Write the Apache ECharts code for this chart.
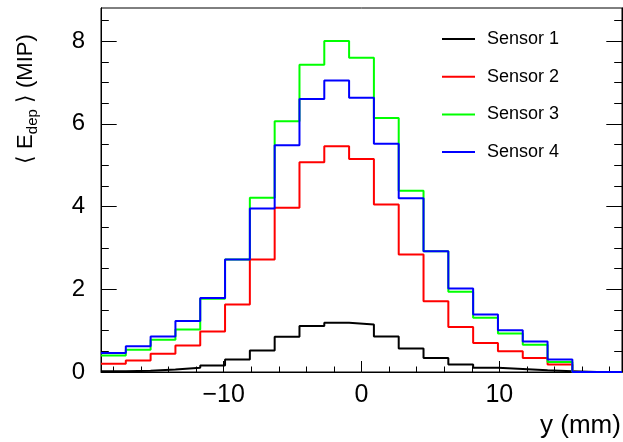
<!DOCTYPE html>
<html>
<head>
<meta charset="utf-8">
<script src="https://cdn.jsdelivr.net/npm/echarts@6/dist/echarts.min.js"></script>
<style>
html,body{margin:0;padding:0;background:#fff;}
#c{width:623px;height:442px;}
</style>
</head>
<body>
<div id="c"></div>
<script>
// Bin edges of the histograms (y in mm)
var binEdges = [-18.9, -17.1, -15.3, -13.5, -11.7, -9.9, -8.1, -6.3, -4.5, -2.7, -0.9,
                0.9, 2.7, 4.5, 6.3, 8.1, 9.9, 11.7, 13.5, 15.3, 17.1, 18.9];
// Mean deposited energy per bin (MIP)
var sensor1 = [0.02, 0.03, 0.06, 0.10, 0.16, 0.30, 0.52, 0.85, 1.11, 1.19, 1.15, 0.86, 0.57, 0.34, 0.18, 0.10, 0.07, 0.04, 0.02, 0, 0];
var sensor2 = [0.20, 0.28, 0.44, 0.64, 0.98, 1.63, 2.72, 3.97, 5.07, 5.46, 5.15, 4.05, 2.84, 1.71, 1.09, 0.70, 0.50, 0.34, 0.18, 0, 0];
var sensor3 = [0.40, 0.54, 0.78, 1.03, 1.77, 2.72, 4.21, 6.06, 7.43, 8.00, 7.60, 6.14, 4.38, 2.92, 1.94, 1.31, 0.93, 0.66, 0.24, 0, 0];
var sensor4 = [0.46, 0.62, 0.86, 1.23, 1.79, 2.72, 3.95, 5.48, 6.60, 7.05, 6.63, 5.52, 4.20, 2.92, 2.02, 1.39, 1.01, 0.74, 0.30, 0, 0];
var seriesNames = ['Sensor 1', 'Sensor 2', 'Sensor 3', 'Sensor 4'];
var seriesColors = ['#000000', '#ff0000', '#00ff00', '#0000ff'];
// Tick values
var xMajorTicks = [-10, 0, 10];
var xMinorTicks = [-18, -16, -14, -12, -10, -8, -6, -4, -2, 0, 2, 4, 6, 8, 10, 12, 14, 16, 18];
var yMajorTicks = [0, 2, 4, 6, 8];
var yMinorTicks = [0.5, 1, 1.5, 2, 2.5, 3, 3.5, 4, 4.5, 5, 5.5, 6, 6.5, 7, 7.5, 8, 8.5];

function stepData(vals) {
  var d = [];
  for (var i = 0; i < vals.length; i++) d.push([binEdges[i], vals[i]]);
  d.push([binEdges[binEdges.length - 1], vals[vals.length - 1]]);
  return d;
}

var FONT = '"Liberation Sans", Arial, Helvetica, sans-serif';
var xMin = binEdges[0], xMax = binEdges[binEdges.length - 1];
var yMin = 0, yMax = 8.8;

function xAxisDef(ticks, len, labels) {
  return {
    type: 'value', min: xMin, max: xMax, position: 'bottom',
    axisLine: { show: labels, onZero: false, lineStyle: { color: '#000', width: 1 } },
    axisTick: { show: true, inside: true, length: len, customValues: ticks, lineStyle: { color: '#000', width: 1 } },
    axisLabel: { show: labels, customValues: ticks, fontSize: 25, color: '#000', fontFamily: FONT, margin: 11,
      formatter: function (v) { return String(v).replace('-', '\u2212'); } },
    splitLine: { show: false }
  };
}
function yAxisDef(pos, ticks, len, labels) {
  return {
    type: 'value', min: yMin, max: yMax, position: pos,
    axisLine: { show: true, onZero: false, lineStyle: { color: '#000', width: 1 } },
    axisTick: { show: true, inside: true, length: len, customValues: ticks, lineStyle: { color: '#000', width: 1 } },
    axisLabel: { show: labels, customValues: ticks, fontSize: 24, color: '#000', fontFamily: FONT, margin: 16 },
    splitLine: { show: false }
  };
}

var series = [sensor1, sensor2, sensor3, sensor4].map(function (vals, i) {
  return {
    name: seriesNames[i], type: 'line', step: 'end', data: stepData(vals),
    xAxisIndex: 0, yAxisIndex: 0, showSymbol: false, symbol: 'none',
    color: seriesColors[i],
    lineStyle: { color: seriesColors[i], width: 2 },
    itemStyle: { color: seriesColors[i] },
    z: 2 + i
  };
});

var chart = echarts.init(document.getElementById('c'), null, { renderer: 'canvas' });
chart.setOption({
  animation: false,
  backgroundColor: '#fff',
  grid: { left: 101, right: 1, top: 8, bottom: 70, show: true, borderColor: '#000', borderWidth: 1, backgroundColor: 'transparent' },
  xAxis: [xAxisDef(xMajorTicks, 11, true), xAxisDef(xMinorTicks, 5.5, false)],
  yAxis: [yAxisDef('left', yMajorTicks, 15.7, true), yAxisDef('left', yMinorTicks, 7.8, false),
          yAxisDef('right', yMajorTicks, 15.7, false), yAxisDef('right', yMinorTicks, 7.8, false)],
  legend: {
    data: seriesNames, orient: 'vertical', left: 442, top: 29, padding: 0,
    icon: 'rect', itemWidth: 33, itemHeight: 2, itemGap: 17.7,
    textStyle: { fontSize: 18, lineHeight: 20, color: '#000', fontFamily: FONT, padding: [0, 0, 0, 7] }
  },
  graphic: [
    { type: 'text', left: 540, top: 413, style: { text: 'y (mm)', font: '26px ' + FONT, fill: '#000' } },
    { type: 'text', x: 11, y: 164, rotation: Math.PI / 2, origin: [0, 0],
      style: { text: '\u27e8 E{sub|dep} \u27e9 (MIP)', font: '22px ' + FONT, fill: '#000', textVerticalAlign: 'top',
        rich: { sub: { fontSize: 15, fontFamily: FONT, padding: [14, 0, 0, 0], fill: '#000' } } } }
  ],
  series: series
});
</script>
</body>
</html>
